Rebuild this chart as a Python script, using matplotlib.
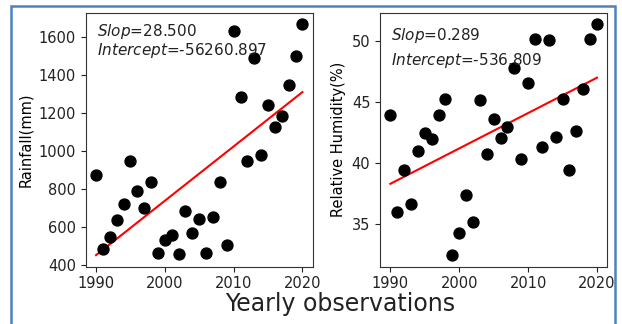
import numpy as np
import matplotlib
matplotlib.use('Agg')
from matplotlib import pyplot as plt
from matplotlib.patches import Rectangle

years = list(range(1990, 2021))
rainfall = [872, 486, 547, 638, 723, 947, 790, 699, 835, 463,
            536, 559, 458, 688, 571, 645, 463, 655, 838, 505,
            1631, 1282, 948, 1490, 980, 1240, 1128, 1184, 1348, 1500,
            1665]
humidity = [43.95, 35.96, 39.42, 36.61, 41.0, 42.45, 41.98, 43.89, 45.2, 32.47,
            34.29, 37.37, 35.19, 45.12, 40.73, 43.59, 42.06, 42.96, 47.74, 40.32,
            46.51, 50.16, 41.27, 50.05, 42.15, 45.23, 39.42, 42.64, 46.05, 50.16,
            51.34]

rain_slope, rain_intercept = 28.500, -56260.897
hum_slope, hum_intercept = 0.289, -536.809

rain_yticks = [400, 600, 800, 1000, 1200, 1400, 1600]
hum_yticks = [35, 40, 45, 50]
xticks = [1990, 2000, 2010, 2020]

fig = plt.figure(figsize=(6.22, 3.24), dpi=100)

# 左图：降雨量
ax1 = fig.add_axes([0.1378, 0.1769, 0.365, 0.784])
ax1.scatter(years, rainfall, s=62, color='black', zorder=3)
xs = np.array([years[0], years[-1]])
ax1.plot(xs, rain_slope * xs + rain_intercept, color='red', lw=1.5)
ax1.set_yticks(rain_yticks)
ax1.set_xticks(xticks)
ax1.set_ylabel('Rainfall(mm)', fontsize=10.5)
ax1.text(0.048, 0.924, r'$\it{Slop}$=%.3f' % rain_slope, transform=ax1.transAxes,
         fontsize=11, va='center', color='#222222')
ax1.text(0.048, 0.850, r'$\it{Intercept}$=%.3f' % rain_intercept, transform=ax1.transAxes,
         fontsize=11, va='center', color='#222222')

# 右图：相对湿度
ax2 = fig.add_axes([0.611, 0.1769, 0.3654, 0.784])
ax2.scatter(years, humidity, s=62, color='black', zorder=3)
ax2.plot(xs, hum_slope * xs + hum_intercept, color='red', lw=1.5)
ax2.set_yticks(hum_yticks)
ax2.set_xticks(xticks)
ax2.set_ylabel('Relative Humidity(%)', fontsize=10.5)
ax2.text(0.048, 0.909, r'$\it{Slop}$=%.3f' % hum_slope, transform=ax2.transAxes,
         fontsize=11, va='center', color='#222222')
ax2.text(0.048, 0.811, r'$\it{Intercept}$=%.3f' % hum_intercept, transform=ax2.transAxes,
         fontsize=11, va='center', color='#222222')

for ax in (ax1, ax2):
    ax.tick_params(labelsize=10.5, colors='#222222')
    for sp in ax.spines.values():
        sp.set_color('#333333')

fig.text(0.547, 0.062, 'Yearly observations', fontsize=17, ha='center', va='center',
         color='#222222')

# 外框
fig.patches.append(Rectangle((11 / 622, -0.02), (615 - 11) / 622, 1 - 6 / 324 + 0.02,
                             transform=fig.transFigure, fill=False,
                             edgecolor='#4F81BD', lw=1.8))

plt.savefig('out.png', dpi=100)
